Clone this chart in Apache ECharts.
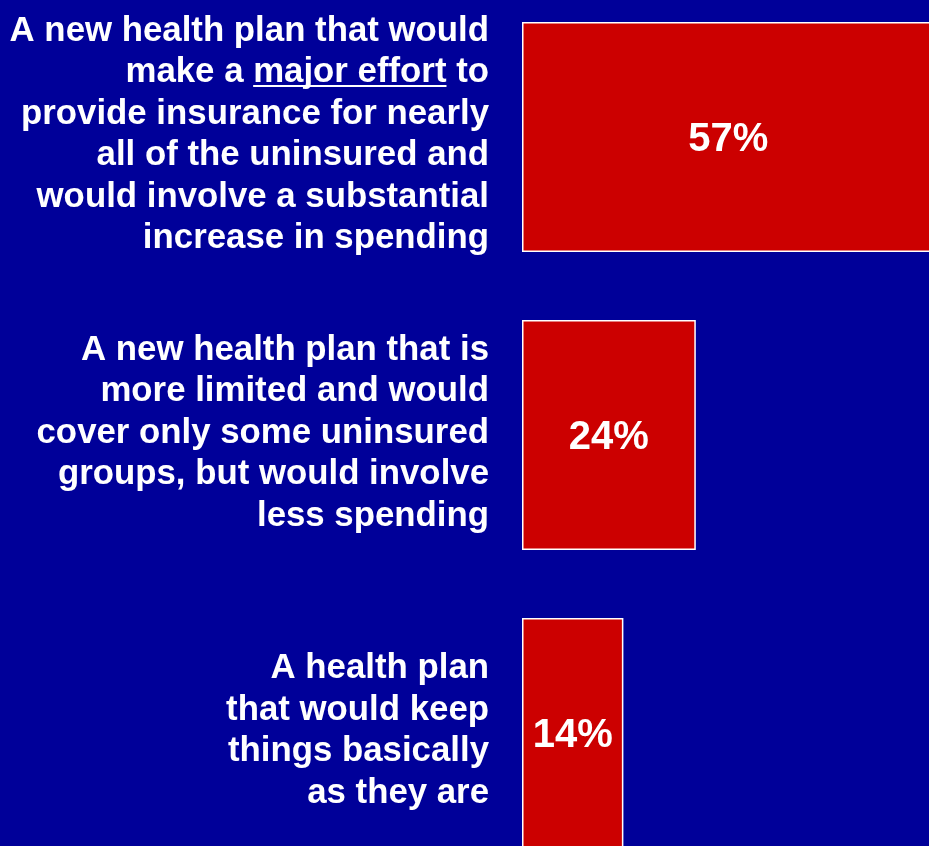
<!DOCTYPE html>
<html>
<head>
<meta charset="utf-8">
<style>
  html, body { margin: 0; padding: 0; background: #000099; }
  #chart { width: 929px; height: 846px; }
</style>
<script src="https://cdn.jsdelivr.net/npm/echarts@6/dist/echarts.min.js"></script>
</head>
<body>
<div id="chart"></div>
<script>
// Health plan options, one entry per line of the wrapped label
const categories = [
  'A new health plan that would\nmake a major effort to\nprovide insurance for nearly\nall of the uninsured and\nwould involve a substantial\nincrease in spending',
  'A new health plan that is\nmore limited and would\ncover only some uninsured\ngroups, but would involve\nless spending',
  'A health plan\nthat would keep\nthings basically\nas they are'
];
// Share of respondents choosing each option (%)
const values = [57, 24, 14];
const emphasized = 'major effort';

const FONT = '"Liberation Sans", Arial, sans-serif';
const LABEL_SIZE = 34.8;
const LINE_H = 41.5;

// Thin white stripe near the bottom of the token box acts as an underline
const underline = new echarts.graphic.LinearGradient(0, 0, 0, 1, [
  { offset: 0, color: 'rgba(255,255,255,0)' },
  { offset: 0.85, color: 'rgba(255,255,255,0)' },
  { offset: 0.85, color: '#ffffff' },
  { offset: 0.92, color: '#ffffff' },
  { offset: 0.92, color: 'rgba(255,255,255,0)' },
  { offset: 1, color: 'rgba(255,255,255,0)' }
]);

const chart = echarts.init(document.getElementById('chart'));
chart.setOption({
  backgroundColor: '#000099',
  animation: false,
  // categories sit on the ticks, so the grid spans first-to-last bar centre
  grid: { left: 522, right: 0, top: 137, bottom: 113, containLabel: false },
  xAxis: {
    type: 'value', min: 0, max: 56.2, show: false
  },
  yAxis: {
    type: 'category',
    inverse: true,
    boundaryGap: false,
    data: categories,
    axisLine: { show: false },
    axisTick: { show: false },
    splitLine: { show: false },
    axisLabel: {
      margin: 33,
      align: 'right',
      verticalAlign: 'middle',
      padding: [0, 0, 4, 0],
      color: '#ffffff',
      fontFamily: FONT,
      fontWeight: 'bold',
      fontSize: LABEL_SIZE,
      lineHeight: LINE_H,
      formatter: (name) => name.replace(emphasized, '{u|' + emphasized + '}'),
      rich: {
        u: {
          color: '#ffffff',
          fontFamily: FONT,
          fontWeight: 'bold',
          fontSize: LABEL_SIZE,
          lineHeight: LINE_H,
          backgroundColor: underline
        }
      }
    }
  },
  series: [{
    type: 'bar',
    data: values,
    barWidth: 230,
    clip: false,
    itemStyle: { color: '#cc0000', borderColor: '#ffffff', borderWidth: 1.5 },
    label: {
      show: true,
      position: 'inside',
      offset: [0, 3],
      formatter: '{c}%',
      color: '#ffffff',
      fontFamily: FONT,
      fontWeight: 'bold',
      fontSize: 40
    }
  }]
});
</script>
</body>
</html>
